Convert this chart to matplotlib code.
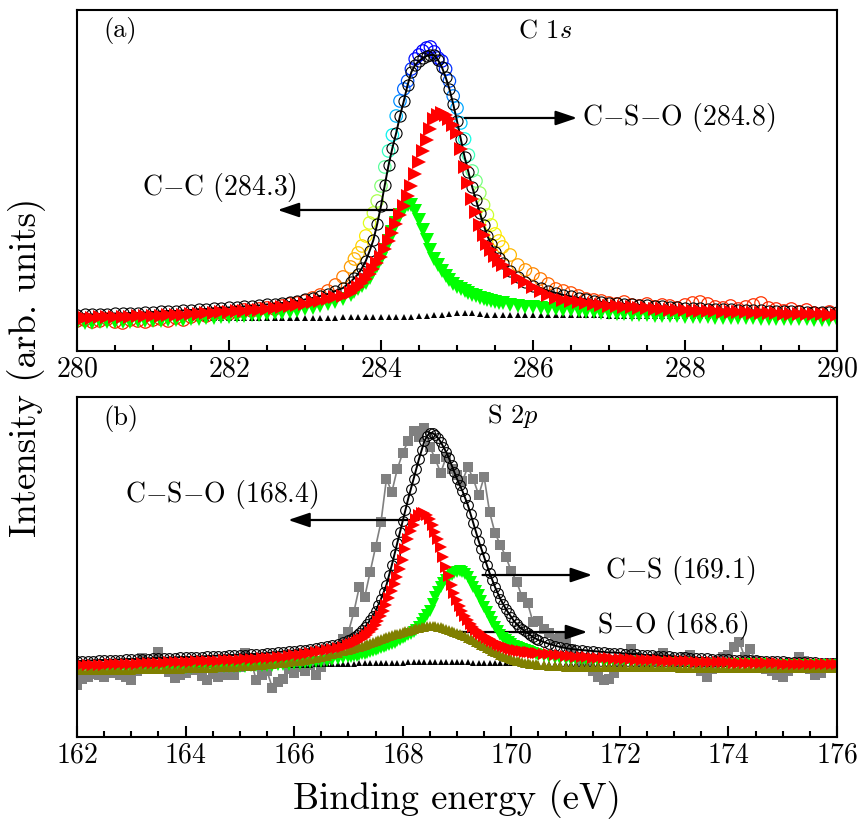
import numpy as np
import matplotlib
matplotlib.use('Agg')
import matplotlib.pyplot as plt
from matplotlib.colors import ListedColormap, Normalize
from matplotlib.ticker import MultipleLocator

plt.rcParams['font.family'] = 'serif'
plt.rcParams['font.serif'] = ['cmr10']
plt.rcParams['mathtext.fontset'] = 'cm'
plt.rcParams['axes.unicode_minus'] = False
plt.rcParams['axes.formatter.use_mathtext'] = True

# ================= Panel (a): C 1s =================
# main grid 280.0 ... 290.0 (0.1 eV)
e_c1s = np.round(np.arange(280.0, 290.0001, 0.1), 2)
# extra half-step points across the peak, 283.65 ... 285.55
e_c1s_mid = np.round(np.arange(283.65, 285.5501, 0.1), 2)

c1s_raw = [30, 31, 29, 30, 32, 29, 28, 31, 30, 29, 31,
           32, 30, 33, 31, 34, 36, 35, 37, 38, 37,
           39, 41, 40, 42, 43, 42, 45, 47, 48, 50,
           53, 56, 60, 66, 74, 84, 98, 115, 138, 165,
           200, 235, 262, 282, 296, 303, 299, 290, 270, 243,
           212, 180, 158, 136, 117, 104, 96, 86, 81, 77,
           72, 67, 62, 60, 58, 55, 52, 51, 50, 48,
           47, 49, 46, 45, 47, 44, 46, 45, 43, 46,
           48, 49, 47, 44, 43, 45, 42, 44, 46, 48,
           43, 42, 40, 42, 39, 41, 38, 37, 39, 37]
c1s_raw_mid = [92, 105, 128, 150, 184, 216, 250, 270, 292, 300,
               304, 293, 282, 255, 228, 196, 170, 146, 126, 110]

c1s_env = [36, 36.5, 36.5, 37, 37, 37.5, 37.5, 38, 38, 38.5, 39,
           39.5, 40, 40, 40.5, 41, 41.5, 42, 42.5, 43, 43.5,
           44, 44.5, 45, 45.5, 46.5, 47, 48, 49, 50, 51.5,
           53, 55, 57, 60, 63, 69, 77, 90, 111, 145,
           186, 218, 250, 279, 290, 295, 296, 284, 262, 230,
           194, 164, 138, 115, 99, 88, 80, 74, 69, 65,
           63, 60, 58, 56, 54.5, 53, 51.5, 50, 49, 48,
           47.5, 47, 46.5, 46, 45.5, 45, 44.5, 44, 43.5, 43,
           42.5, 42.5, 42, 42, 41.5, 41.5, 41, 41, 40.5, 40.5,
           40, 40, 39.5, 39.5, 39.5, 39, 39, 39, 38.5, 38.5]
c1s_env_mid = [73, 83, 100, 127, 166, 203, 235, 266, 286, 293,
               296, 291, 274, 247, 212, 179, 151, 126, 107, 93]

c1s_cc = [28, 28, 28, 28.5, 28.5, 29, 29, 29, 29.5, 29.5, 30,
          30, 30.5, 31, 31, 31.5, 32, 32.5, 33, 33.5, 34,
          34.5, 35, 35.5, 36, 37, 37.5, 38, 39, 40, 41.5,
          43, 44.5, 46.5, 49, 52, 56, 62, 68, 79, 92,
          110, 128, 142, 146, 131, 111, 92, 80, 71, 64,
          60, 56, 53, 51, 49, 47.5, 46, 45, 44, 43.5,
          42.5, 42, 41.5, 41, 40.5, 40, 39, 38.5, 38, 37.5,
          37, 36.5, 36, 36, 35.5, 35, 35, 34.5, 34.5, 34,
          34, 33.5, 33.5, 33, 33, 33, 32.5, 32.5, 32.5, 32,
          32, 32, 31.5, 31.5, 31.5, 31.5, 31, 31, 31, 31]
c1s_cc_mid = [59, 65, 73, 85, 101, 119, 136, 146, 140, 121,
              101, 86, 75, 67, 62, 58, 54.5, 52, 50, 48]

c1s_cso = [33, 33, 33, 33.5, 33.5, 33.5, 34, 34, 34.5, 34.5, 35,
           35, 35.5, 35.5, 36, 36.5, 37, 37.5, 38, 38.5, 39,
           39.5, 40, 40.5, 41, 42, 43, 44, 45, 46, 47,
           48.5, 50, 52, 53.5, 55, 58, 64, 72, 82, 94,
           110, 127, 145, 165, 189, 211, 232, 238, 232, 218,
           184, 152, 126, 107, 95, 86, 79, 73, 69, 64,
           60, 56, 53, 51, 50, 48.5, 47.5, 46.5, 45.5, 45,
           44.5, 44, 43.5, 43, 42.5, 42, 41.5, 41, 41, 40.5,
           40, 40, 39.5, 39.5, 39, 39, 38.5, 38.5, 38, 38,
           37.5, 37.5, 37, 37, 37, 36.5, 36.5, 36.5, 36, 36]
c1s_cso_mid = [61, 68, 77, 88, 102, 118, 136, 155, 177, 200,
               222, 236, 236, 226, 202, 168, 139, 116, 101, 90]

c1s_bg = [33, 33, 33, 33, 33, 33, 33, 33, 33, 33, 33,
          33, 33, 33, 33, 33, 33, 33, 33, 33, 33,
          33, 33, 33, 33, 33, 33, 33, 33, 33, 33,
          33, 33, 33, 33, 33.5, 33.5, 33.5, 33.5, 33.5, 33.5,
          33.5, 34, 34, 34, 34.5, 35, 35.5, 36, 36.5, 37.5,
          38, 37.5, 36.5, 36, 35.5, 35.5, 35.5, 35.5, 35.5, 35.5,
          35.5, 35.5, 35.5, 35.5, 35.5, 35.5, 35.5, 35.5, 35.5, 35,
          35, 35, 35, 35, 35, 35, 35, 35, 35, 34.5,
          34.5, 34.5, 34.5, 34.5, 34.5, 34.5, 34.5, 34.5, 34.5, 34,
          34, 34, 34, 34, 34, 34, 34, 34, 34, 34]

# ================= Panel (b): S 2p =================
e_s2p = np.round(np.arange(162.0, 176.0001, 0.1), 2)
e_s2p_mid = np.round(np.arange(167.05, 170.4501, 0.1), 2)

s2p_raw = [52, 58, 60, 63, 62, 60, 64, 66, 62, 60,
           57, 66, 79, 72, 70, 85, 74, 65, 59, 62,
           64, 70, 67, 61, 57, 63, 60, 62, 66, 62,
           70, 84, 78, 57, 62, 66, 49, 55, 58, 68,
           64, 70, 66, 72, 62, 70, 78, 84, 88, 98,
           105, 125, 150, 140, 165, 190, 215, 258, 245, 268,
           284, 296, 306, 300, 309, 290, 278, 264, 280, 268,
           262, 256, 270, 258, 242, 260, 225, 204, 192, 180,
           166, 155, 140, 134, 115, 116, 108, 104, 98, 100,
           95, 88, 80, 74, 70, 66, 60, 57, 58, 64,
           70, 78, 88, 80, 70, 72, 76, 80, 84, 78,
           72, 76, 80, 82, 74, 66, 60, 68, 76, 80,
           82, 90, 95, 80, 88, 76, 72, 68, 66, 62,
           60, 66, 74, 80, 76, 68, 62, 64, 70, 74,
           72]

s2p_env = [76, 76, 76.5, 76.5, 77, 77, 77, 77.5, 77.5, 78, 78,
           78, 78.5, 78.5, 79, 79, 79, 79.5, 79.5, 80, 80,
           80, 80.5, 80.5, 81, 81, 81.5, 81.5, 82, 82, 82.5,
           82.5, 83, 83, 83.5, 84, 84.5, 85, 85.5, 86, 86.5,
           87, 87.5, 88, 89, 90, 91, 92, 93.5, 95, 97,
           100, 104, 110, 117, 126, 138, 152, 172, 194, 216,
           238, 258, 278, 296, 304, 302, 295, 285, 272, 258,
           246, 232, 214, 196, 180, 164, 150, 138, 128, 120,
           113, 108, 104, 100, 97, 95, 93, 91.5, 90, 89,
           88, 87.5, 87, 86.5, 86, 85.5, 85, 84.5, 84.5, 84,
           83.5, 83, 83, 82.5, 82, 82, 81.5, 81, 81, 80.5,
           80, 80, 79.5, 79.5, 79, 79, 78.5, 78.5, 78, 78,
           77.5, 77.5, 77, 77, 77, 76.5, 76.5, 76, 76, 76,
           75.5, 75.5, 75.5, 75, 75, 75, 74.5, 74.5, 74.5, 74]
s2p_env_mid = [98.5, 102, 107, 113, 121, 132, 145, 162, 183, 205,
               227, 248, 268, 287, 301, 304, 299, 290, 279, 265,
               252, 239, 223, 205, 188, 172, 157, 144, 133, 124,
               116, 110, 106, 102, 98.5]

s2p_cso = [72, 72, 72, 72.5, 72.5, 72.5, 73, 73, 73, 73.5, 73.5,
           73.5, 74, 74, 74, 74.5, 74.5, 75, 75, 75, 75.5,
           75.5, 76, 76, 76, 76.5, 76.5, 77, 77, 77.5, 77.5,
           78, 78, 78.5, 79, 79, 79.5, 80, 80.5, 81, 82,
           82.5, 83, 84, 85, 86, 87, 88, 89, 90, 92,
           94, 97, 100, 105, 112, 121, 132, 146, 160, 177,
           198, 212, 222, 224, 218, 205, 190, 170, 152, 137,
           126, 117, 110, 105, 101, 98, 95, 92, 90, 88,
           87, 86, 85, 84.5, 84, 83.5, 83, 82.5, 82, 81.5,
           81, 80.5, 80, 80, 79.5, 79.5, 79, 79, 78.5, 78.5,
           78, 78, 77.5, 77.5, 77, 77, 77, 76.5, 76.5, 76.5,
           76, 76, 76, 75.5, 75.5, 75.5, 75, 75, 75, 75,
           74.5, 74.5, 74.5, 74.5, 74, 74, 74, 74, 74, 73.5,
           73.5, 73.5, 73.5, 73.5, 73, 73, 73, 73, 73, 73]
s2p_cso_mid = [93, 95.5, 98.5, 102.5, 108.5, 116.5, 126.5, 139, 153, 168.5,
               188, 206, 218, 224, 222, 212, 198, 180, 161, 144,
               131, 121, 113.5, 107.5, 103, 99.5, 96.5, 93.5, 91, 89,
               87.5, 86.5, 85.5, 84.8, 84.2]

s2p_cs = [68, 68, 68, 68, 68, 68.5, 68.5, 68.5, 68.5, 68.5, 69,
          69, 69, 69, 69, 69, 69.5, 69.5, 69.5, 69.5, 69.5,
          69.5, 70, 70, 70, 70, 70, 70, 70.5, 70.5, 70.5,
          70.5, 71, 71, 71, 71.5, 71.5, 72, 72, 72.5, 73,
          73.5, 74, 74.5, 75, 75.5, 76, 77, 78, 79, 80,
          81, 82, 83.5, 85, 87, 89, 91, 93, 96, 99,
          102, 105, 110, 118, 126, 140, 150, 157, 162, 165,
          165, 160, 150, 142, 130, 120, 110, 102, 97, 93,
          90, 88, 86, 84, 82.5, 81, 80, 79, 78.5, 78,
          77.5, 77, 76.5, 76.5, 76, 76, 75.5, 75.5, 75, 75,
          75, 75, 74.5, 74.5, 74.5, 74.5, 74, 74, 74, 74,
          74, 74, 73.5, 73.5, 73.5, 73.5, 73.5, 73.5, 73, 73,
          73, 73, 73, 73, 73, 73, 72.5, 72.5, 72.5, 72.5,
          72.5, 72.5, 72.5, 72.5, 72, 72, 72, 72, 72, 72]
s2p_cs_mid = [80.5, 81.5, 82.8, 84.2, 86, 88, 90, 92, 94.5, 97.5,
              100.5, 103.5, 107.5, 114, 122, 133, 145, 154, 160, 164,
              166, 163, 155, 146, 136, 125, 115, 106, 99.5, 95,
              91.5, 89, 87, 85, 83.2]

s2p_so = [67, 67, 67, 67, 67, 67, 67.5, 67.5, 67.5, 67.5, 67.5,
          68, 68, 68, 68, 68, 68.5, 68.5, 68.5, 68.5, 69,
          69, 69, 69.5, 69.5, 69.5, 70, 70, 70.5, 70.5, 71,
          71, 71.5, 72, 72.5, 73, 73.5, 74, 74.5, 75, 76,
          76.5, 77.5, 78.5, 79.5, 80.5, 81.5, 83, 84.5, 86, 87.5,
          89, 90.5, 92, 94, 96, 98, 100, 102, 103.5, 105,
          106.5, 108, 109.5, 110.5, 111, 111, 110, 108.5, 106.5, 104.5,
          102, 99.5, 97, 94, 91, 88, 85, 82.5, 80, 78,
          76.5, 75, 74, 73, 72.5, 72, 71.5, 71, 71, 70.5,
          70.5, 70.5, 70.5, 70, 70, 70, 70, 70, 70, 70,
          70, 70, 70, 70, 70, 70, 70, 70, 70, 70,
          69.5, 69.5, 69.5, 69.5, 69.5, 69.5, 69.5, 69.5, 69.5, 69.5,
          69.5, 69.5, 69.5, 69.5, 69.5, 69, 69, 69, 69, 69,
          69, 69, 69, 69, 69, 69, 69, 69, 69, 69]
s2p_so_mid = [88.2, 89.8, 91.2, 93, 95, 97, 99, 101, 102.8, 104.2,
              105.8, 107.2, 108.8, 110, 110.8, 111, 110.5, 109.2, 107.5, 105.5,
              103.2, 100.8, 98.2, 95.5, 92.5, 89.5, 86.5, 83.8, 81.2, 79,
              77.2, 75.8, 74.5, 73.5, 72.8]

s2p_bg = [72, 72, 72, 72, 72, 72, 72, 72, 72, 72, 72,
          72, 72, 72, 72, 72, 72, 72, 72, 72, 72,
          72, 72, 72, 72, 72, 72, 72, 72, 72, 72,
          72, 72, 72, 72, 72, 72, 72, 72, 72, 72.5,
          72.5, 72.5, 72.5, 73, 73, 73, 73, 73.5, 73.5, 73.5,
          73.5, 74, 74, 74, 74, 74.5, 74.5, 74.5, 74.5, 74.5,
          75, 75, 75, 75, 75, 75, 75, 75, 75, 75,
          75, 75, 74.5, 74.5, 74.5, 74.5, 74, 74, 74, 74,
          74, 73.5, 73.5, 73.5, 73.5, 73.5, 73.5, 73.5, 73.5, 73.5,
          73.5, 73.5, 73.5, 73.5, 73.5, 73.5, 73.5, 73.5, 73.5, 73.5,
          73.5, 73.5, 73.5, 73.5, 73.5, 73.5, 73.5, 73.5, 73.5, 73.5,
          73.5, 73.5, 73.5, 73.5, 73.5, 73.5, 73.5, 73.5, 73.5, 73.5,
          73.5, 73.5, 73.5, 73.5, 73.5, 73.5, 73.5, 73.5, 73.5, 73.5,
          73, 73, 73, 73, 73, 73, 73, 73, 73, 73]


def merged(e_main, v_main, e_extra, v_extra):
    """Combine the main-grid and half-step readings in energy order."""
    e = np.concatenate([e_main, e_extra])
    v = np.concatenate([np.asarray(v_main, float), np.asarray(v_extra, float)])
    order = np.argsort(e, kind='stable')
    return e[order], v[order]


# ================= Figure =================
fig = plt.figure(figsize=(8.67, 8.26), dpi=100)
ax1 = fig.add_axes([0.0888, 0.5751, 0.8766, 0.4128])
ax2 = fig.add_axes([0.0888, 0.1077, 0.8766, 0.4117])

RED = '#ff0000'
GREEN = '#00ff00'
OLIVE = '#808000'
GRAY = '#808080'

# ---- panel a ----
ea_raw, va_raw = merged(e_c1s, c1s_raw, e_c1s_mid, c1s_raw_mid)
ea_env, va_env = merged(e_c1s, c1s_env, e_c1s_mid, c1s_env_mid)
ea_cc, va_cc = merged(e_c1s, c1s_cc, e_c1s_mid, c1s_cc_mid)
ea_cso, va_cso = merged(e_c1s, c1s_cso, e_c1s_mid, c1s_cso_mid)

# raw points coloured by intensity: red (low) -> orange -> yellow -> green -> cyan -> blue (high)
raw_cmap = ListedColormap(plt.cm.jet(np.linspace(0.875, 0.12, 256)))
raw_cols = raw_cmap(Normalize(40, 300)(va_raw))

ax1.scatter(ea_raw, va_raw, s=80, marker='o', facecolors='none',
            edgecolors=raw_cols, linewidths=0.9, zorder=1)
ax1.plot(ea_env, va_env, 'o', mfc='none', mec='k', ms=8, mew=0.8, zorder=2)
ax1.plot(ea_env, va_env, '-', color='k', lw=1.4, zorder=2.5)
ax1.plot(e_c1s, c1s_bg, '^', color='k', ms=4.5, mew=0, zorder=3)
ax1.plot(ea_cc, va_cc, 'v', color=GREEN, ms=10, mew=0, zorder=4)
ax1.plot(ea_cso, va_cso, '>', color=RED, ms=10, mew=0, zorder=5)

ax1.set_xlim(280, 290)
ax1.set_ylim(0, 341)
ax1.xaxis.set_major_locator(MultipleLocator(2))
ax1.xaxis.set_minor_locator(MultipleLocator(0.5))

# ---- panel b ----
eb_env, vb_env = merged(e_s2p, s2p_env, e_s2p_mid, s2p_env_mid)
eb_cso, vb_cso = merged(e_s2p, s2p_cso, e_s2p_mid, s2p_cso_mid)
eb_cs, vb_cs = merged(e_s2p, s2p_cs, e_s2p_mid, s2p_cs_mid)
eb_so, vb_so = merged(e_s2p, s2p_so, e_s2p_mid, s2p_so_mid)

ax2.plot(e_s2p, s2p_raw, '-', color=GRAY, lw=1.2, zorder=1)
ax2.plot(e_s2p, s2p_raw, 's', color=GRAY, ms=6.5, mew=0, zorder=1)
ax2.plot(eb_env, vb_env, 'o', mfc='none', mec='k', ms=7, mew=0.8, zorder=2)
ax2.plot(eb_env, vb_env, '-', color='k', lw=1.4, zorder=2.5)
ax2.plot(e_s2p, s2p_bg, '^', color='k', ms=4, mew=0, zorder=3)
ax2.plot(eb_cs, vb_cs, 'v', color=GREEN, ms=8.5, mew=0, zorder=4)
ax2.plot(eb_so, vb_so, '^', color=OLIVE, ms=7, mew=0, zorder=4.5)
ax2.plot(eb_cso, vb_cso, '>', color=RED, ms=8.5, mew=0, zorder=5)

ax2.set_xlim(162, 176)
ax2.set_ylim(0, 340)
ax2.xaxis.set_major_locator(MultipleLocator(2))
ax2.xaxis.set_minor_locator(MultipleLocator(0.5))

for ax in (ax1, ax2):
    ax.set_yticks([])
    for sp in ax.spines.values():
        sp.set_linewidth(1.5)
        sp.set_zorder(10)
    ax.tick_params(axis='x', which='major', direction='in', length=8,
                   width=1.5, labelsize=20, pad=4, top=False)
    ax.tick_params(axis='x', which='minor', direction='in', length=4,
                   width=1.5, top=False)

arrow_kw = dict(arrowstyle='-|>,head_length=0.65,head_width=0.22',
                color='k', lw=1.6, mutation_scale=20, shrinkA=0, shrinkB=0)
FS = 20

# panel a annotations
ax1.text(0.057, 0.94, '(a)', transform=ax1.transAxes, fontsize=19,
         ha='center', va='center')
ax1.text(0.616, 0.94, r'C 1$s$', transform=ax1.transAxes, fontsize=19,
         ha='center', va='center')
ax1.annotate('', xy=(286.58, 233), xytext=(285.1, 233), arrowprops=arrow_kw)
ax1.text(286.64, 233, r'C$-$S$-$O (284.8)', fontsize=FS, ha='left', va='center')
ax1.annotate('', xy=(282.64, 141), xytext=(284.25, 141), arrowprops=arrow_kw)
ax1.text(281.87, 163, r'C$-$C (284.3)', fontsize=FS, ha='center', va='center')

# panel b annotations
ax2.text(0.058, 0.938, '(b)', transform=ax2.transAxes, fontsize=19,
         ha='center', va='center')
ax2.text(0.574, 0.945, r'S 2$p$', transform=ax2.transAxes, fontsize=19,
         ha='center', va='center')
ax2.annotate('', xy=(165.89, 217), xytext=(168.29, 217), arrowprops=arrow_kw)
ax2.text(164.67, 242, r'C$-$S$-$O (168.4)', fontsize=FS, ha='center', va='center')
ax2.annotate('', xy=(171.49, 162), xytext=(169.47, 162), arrowprops=arrow_kw)
ax2.text(171.73, 167, r'C$-$S (169.1)', fontsize=FS, ha='left', va='center')
ax2.annotate('', xy=(171.4, 105), xytext=(168.99, 105), arrowprops=arrow_kw)
ax2.text(171.57, 112, r'S$-$O (168.6)', fontsize=FS, ha='left', va='center')

fig.text(0.527, 0.032, 'Binding energy (eV)', fontsize=26.5, ha='center', va='center')
fig.text(0.031, 0.555, 'Intensity (arb. units)', fontsize=26.5, rotation=90,
         ha='center', va='center')

fig.savefig('out.png', dpi=100)
